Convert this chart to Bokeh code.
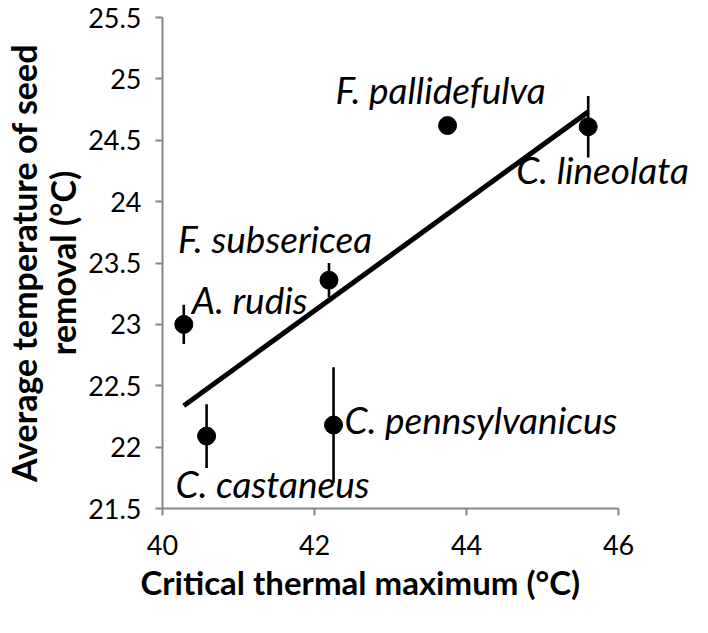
import numpy as np
from bokeh.plotting import figure
from bokeh.models import FixedTicker, Range1d, ColumnDataSource, LabelSet, Title
from bokeh.core.properties import value
from bokeh.embed import file_html
from bokeh.resources import INLINE

# ---- data ----
species = ["A. rudis", "C. castaneus", "C. pennsylvanicus",
           "F. subsericea", "F. pallidefulva", "C. lineolata"]
ctmax = [40.28, 40.58, 42.25, 42.19, 43.75, 45.60]          # Critical thermal maximum (°C)
seed_temp = [23.00, 22.09, 22.18, 23.36, 24.62, 24.61]      # Avg temperature of seed removal (°C)
seed_err = [0.16, 0.26, 0.47, 0.14, 0.05, 0.25]

x_ticks = [40, 42, 44, 46]
x_tick_labels = ["40", "42", "44", "46"]
y_ticks = [21.5, 22, 22.5, 23, 23.5, 24, 24.5, 25, 25.5]
y_tick_labels = ["21.5", "22", "22.5", "23", "23.5", "24", "24.5", "25", "25.5"]

x_title = "Critical thermal maximum (°C)"
y_title = "Average temperature of seed\nremoval (°C)"

# ---- label placement (screen-pixel offsets from each point; layout only) ----
label_dx = [8, -31, 11, -151, -112, -72]
label_dy = [-10, 62, 9, -27, -22, 57]      # positive = downwards

FONT = "Lato"
AXIS_GREY = "#868686"
W, H = 692, 617
LEFT, TOP, BOTTOM = 154, 17, 109
AXIS_PX = 463            # pixel length of the 40..46 axis
X_MIN, X_MAX = 40, 46
# the frame runs to the right edge so labels there are not clipped; axis line stops at 46
x_end = X_MIN + (X_MAX - X_MIN) * (W - LEFT) / AXIS_PX

lo = [t - e for t, e in zip(seed_temp, seed_err)]
hi = [t + e for t, e in zip(seed_temp, seed_err)]
src = ColumnDataSource(dict(x=ctmax, y=seed_temp, lo=lo, hi=hi, name=species,
                            dx=label_dx, dy=[-d for d in label_dy]))

slope, intercept = np.polyfit(ctmax, seed_temp, 1)
fit_x = [min(ctmax), max(ctmax)]
fit_y = [slope * v + intercept for v in fit_x]

p = figure(width=W, height=H, output_backend="svg", toolbar_location=None,
           x_range=Range1d(X_MIN, x_end), y_range=Range1d(21.5, 25.5),
           min_border_left=LEFT, min_border_right=0,
           min_border_top=TOP, min_border_bottom=BOTTOM)
p.outline_line_color = None
p.xgrid.visible = False
p.ygrid.visible = False
p.background_fill_color = "white"
p.border_fill_color = "white"

# error bars
p.segment(x0="x", y0="lo", x1="x", y1="hi", source=src, line_color="black", line_width=2.6)
# regression line
p.line(fit_x, fit_y, line_color="black", line_width=5)
# points
p.scatter("x", "y", source=src, size=18, fill_color="black", line_color="black")
# species labels
p.add_layout(LabelSet(x="x", y="y", text="name", source=src, x_offset="dx", y_offset="dy",
                      text_font=value(FONT), text_font_style="italic", text_font_size="37px",
                      text_align="left", text_baseline="alphabetic", text_color="black"))

# axes
for ax in (p.xaxis[0], p.yaxis[0]):
    ax.axis_line_color = AXIS_GREY
    ax.axis_line_width = 2
    ax.major_tick_line_color = AXIS_GREY
    ax.major_tick_line_width = 2
    ax.major_tick_in = 0
    ax.major_tick_out = 7
    ax.minor_tick_line_color = None
    ax.major_label_text_font = FONT
    ax.major_label_text_font_size = "27px"
    ax.major_label_text_color = "black"

p.xaxis.bounds = (X_MIN, X_MAX)
p.xaxis.ticker = FixedTicker(ticks=x_ticks)
p.xaxis.major_label_overrides = {t: l for t, l in zip(x_ticks, x_tick_labels)}
p.xaxis.major_label_standoff = 19
p.yaxis.ticker = FixedTicker(ticks=y_ticks)
p.yaxis.major_label_overrides = {t: l for t, l in zip(y_ticks, y_tick_labels)}
p.yaxis.major_label_standoff = 14

p.yaxis.axis_label = y_title
p.yaxis.axis_label_text_font = FONT
p.yaxis.axis_label_text_font_style = "bold"
p.yaxis.axis_label_text_font_size = "34px"
p.yaxis.axis_label_text_line_height = 0.95
p.yaxis.axis_label_text_color = "black"
p.yaxis.axis_label_standoff = 2

# x axis title, placed like the reference (starts a little left of the axis)
p.add_layout(Title(text=x_title, align="left", offset=-22, standoff=4,
                   vertical_align="bottom",
                   text_font=FONT, text_font_style="bold", text_font_size="33px",
                   text_color="black"), "below")

open("out.html", "w").write(file_html(p, INLINE))
